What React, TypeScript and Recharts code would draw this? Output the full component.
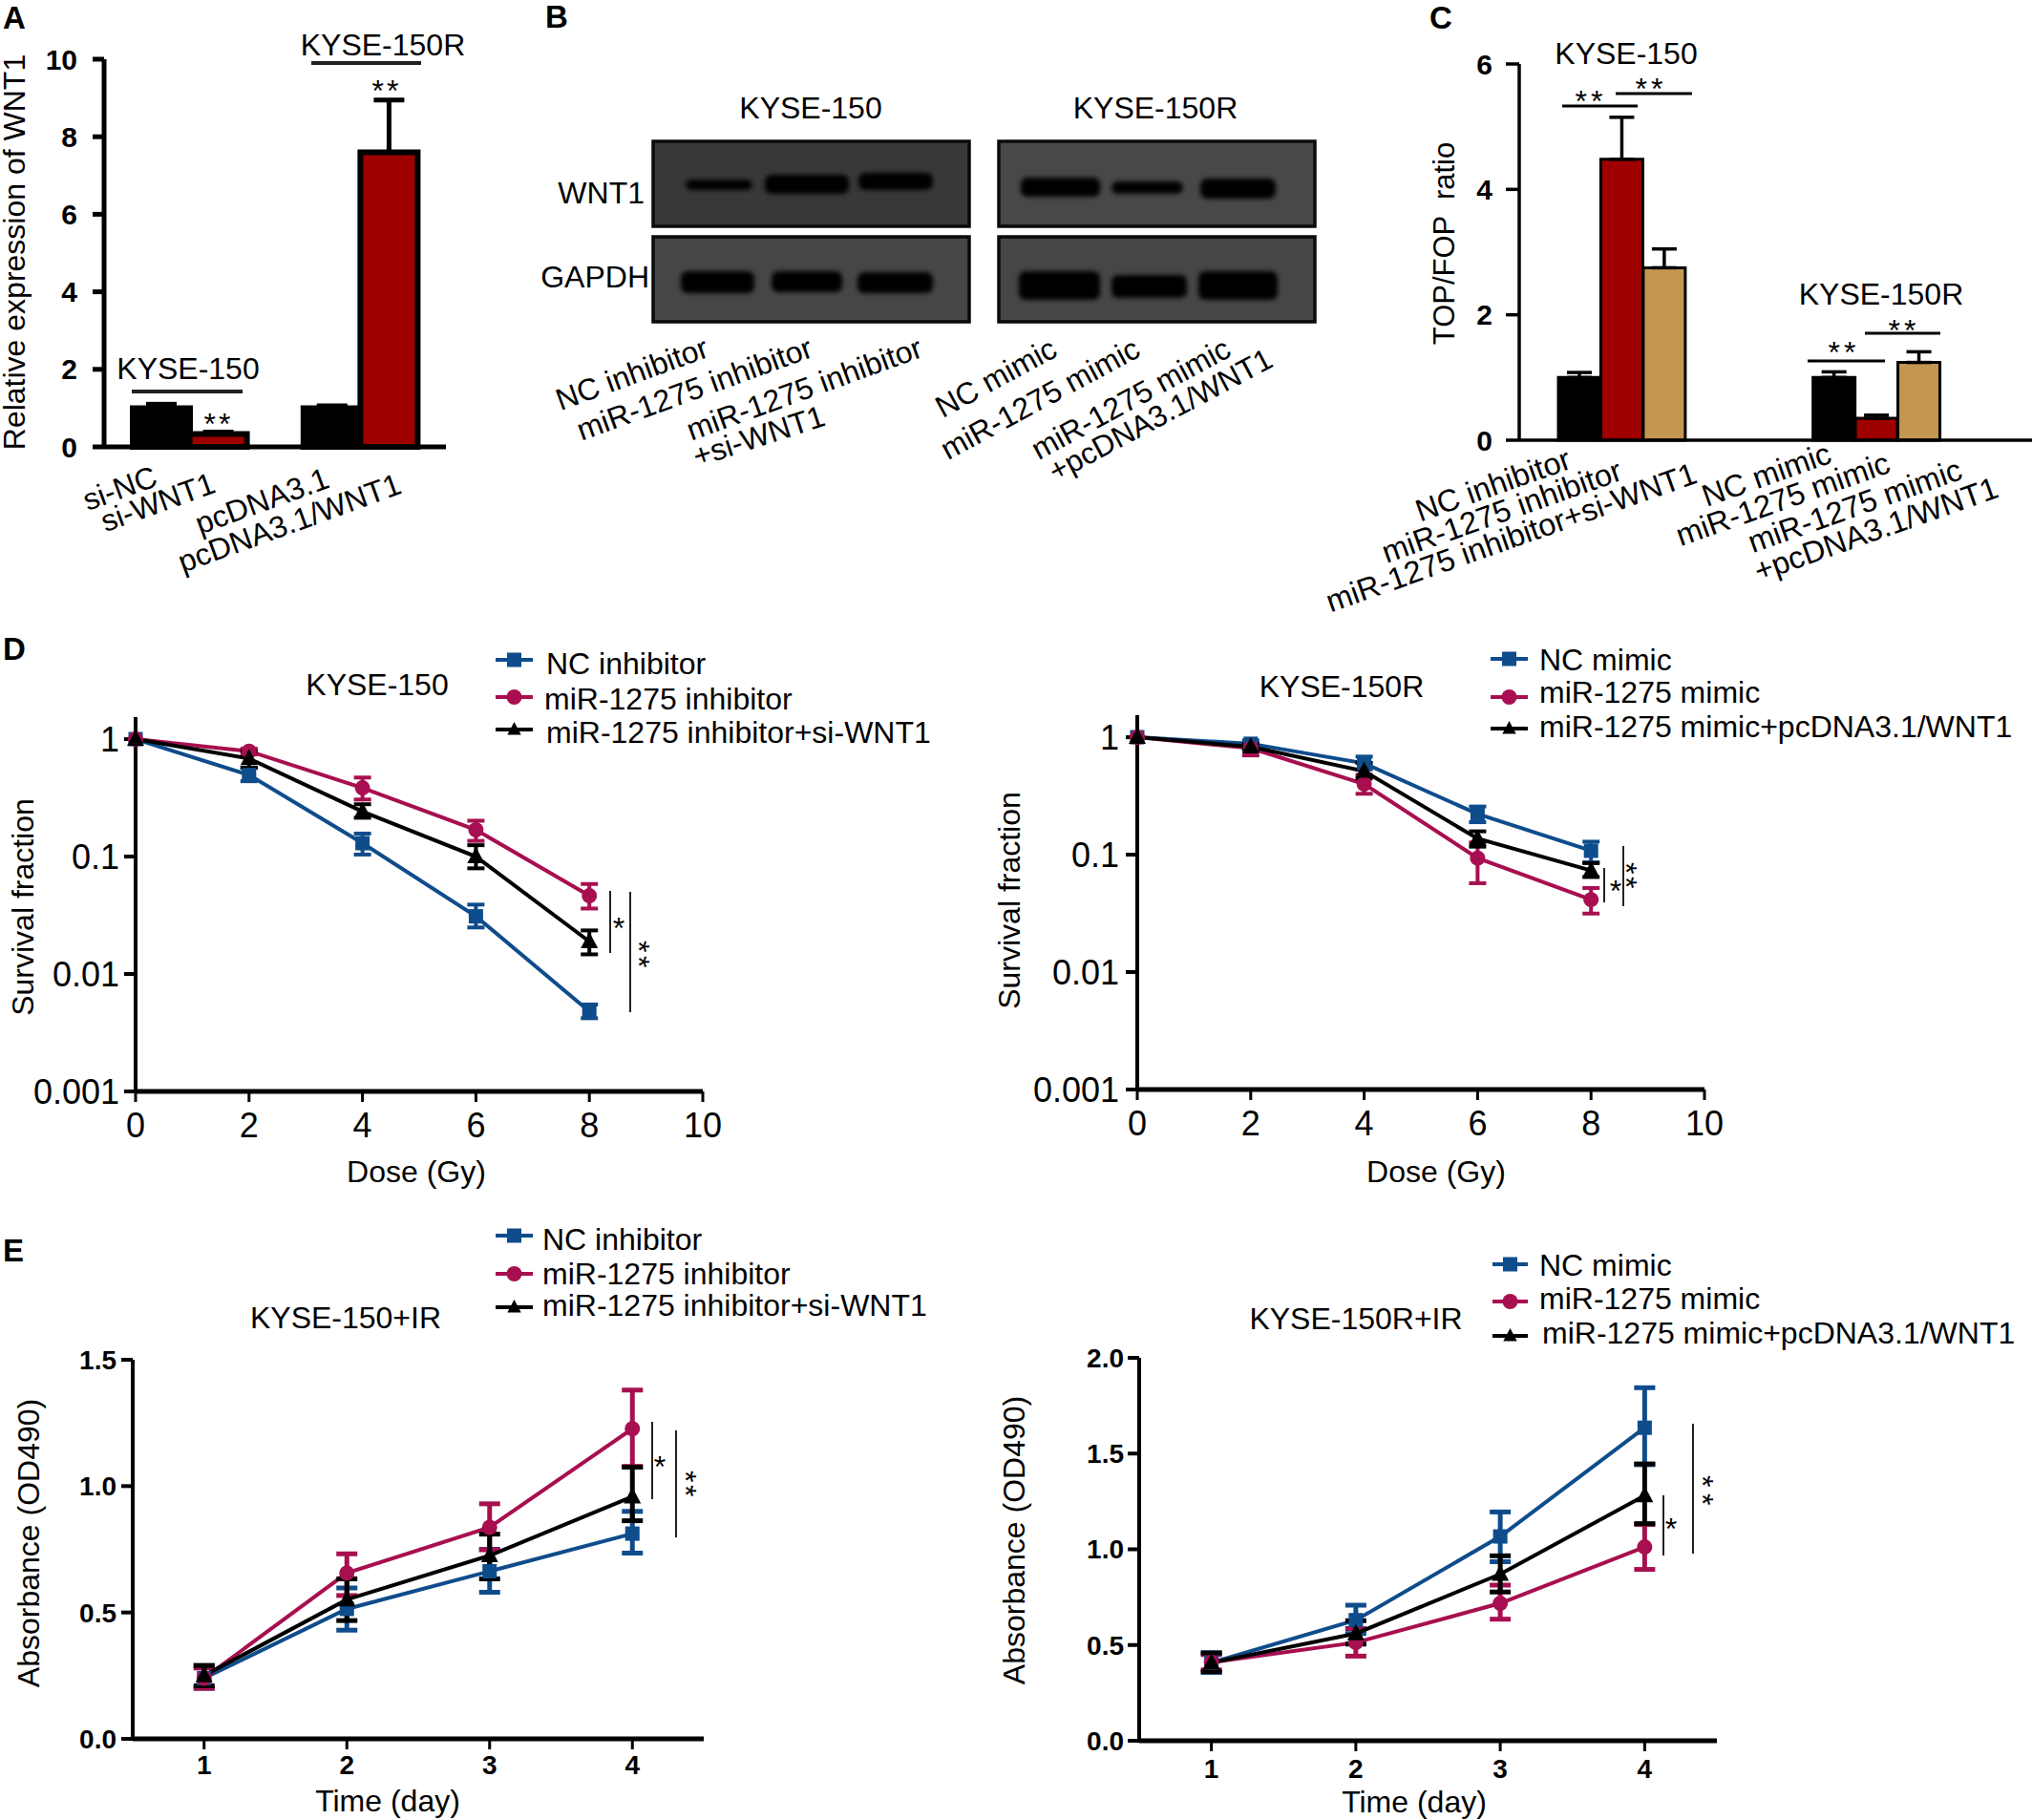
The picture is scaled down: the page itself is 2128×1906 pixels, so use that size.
import React from 'react';
import { BarChart, Bar, Cell, ErrorBar, LineChart, Line, XAxis, YAxis } from 'recharts';

const FONT = '"Liberation Sans", Arial, sans-serif';
const NAVY = '#0F4C8C';
const CRIMSON = '#A80F50';
const INK = '#000000';
const DARKRED = '#9E0000';
const TAN = '#C49650';

// Panel A
const aCategories = ['si-NC', 'si-WNT1', ' ', 'pcDNA3.1', 'pcDNA3.1/WNT1'];
const aValues = [1.0, 0.33, null, 1.0, 7.6];
const aErrors = [0.1, 0.05, null, 0.06, 1.35];
const aFills = [INK, DARKRED, INK, INK, DARKRED];
const aTicks = [0, 2, 4, 6, 8, 10];

// Panel C
const cCategories = ['NC inhibitor', 'miR-1275 inhibitor', 'miR-1275 inhibitor+si-WNT1', ' ', '  ', '   ', 'NC mimic', 'miR-1275 mimic', 'miR-1275 mimic\n+pcDNA3.1/WNT1'];
const cValues = [1.0, 4.48, 2.75, null, null, null, 1.0, 0.35, 1.24];
const cErrors = [0.08, 0.67, 0.3, null, null, null, 0.09, 0.05, 0.17];
const cFills = [INK, DARKRED, TAN, INK, INK, INK, INK, DARKRED, TAN];
const cTicks = [0, 2, 4, 6];

// Panel D
const doses = [0, 2, 4, 6, 8];
const doseTicks = [0, 2, 4, 6, 8, 10];
const survivalTicks = [0.001, 0.01, 0.1, 1];

const d1Nc = [1, 0.495, 0.13, 0.031, 0.0048];
const d1NcLow = [1, 0.438, 0.104, 0.0249, 0.0042];
const d1NcHigh = [1, 0.571, 0.157, 0.039, 0.0055];
const d1Inh = [1, 0.79, 0.385, 0.169, 0.0464];
const d1InhLow = [1, 0.74, 0.306, 0.136, 0.0361];
const d1InhHigh = [1, 0.83, 0.471, 0.202, 0.0584];
const d1Si = [1, 0.684, 0.242, 0.1, 0.0189];
const d1SiLow = [1, 0.57, 0.214, 0.0794, 0.0147];
const d1SiHigh = [1, 0.79, 0.279, 0.125, 0.0235];

const d2Nc = [1, 0.88, 0.6, 0.222, 0.108];
const d2NcLow = [1, 0.81, 0.532, 0.189, 0.086];
const d2NcHigh = [1, 0.94, 0.684, 0.257, 0.129];
const d2Mim = [1, 0.807, 0.4, 0.0935, 0.0414];
const d2MimLow = [1, 0.7, 0.33, 0.0571, 0.0315];
const d2MimHigh = [1, 0.88, 0.479, 0.127, 0.052];
const d2Wnt = [1, 0.83, 0.514, 0.137, 0.0733];
const d2WntLow = [1, 0.78, 0.445, 0.117, 0.0645];
const d2WntHigh = [1, 0.88, 0.605, 0.158, 0.0847];

// Panel E
const days = [1, 2, 3, 4];
const e1Ticks = [0, 0.5, 1, 1.5];
const e2Ticks = [0, 0.5, 1, 1.5, 2];

const e1Nc = [0.24, 0.514, 0.663, 0.812];
const e1NcLow = [0.2, 0.43, 0.58, 0.735];
const e1NcHigh = [0.29, 0.597, 0.75, 0.9];
const e1Inh = [0.24, 0.656, 0.837, 1.227];
const e1InhLow = [0.2, 0.567, 0.748, 1.078];
const e1InhHigh = [0.28, 0.732, 0.93, 1.38];
const e1Si = [0.25, 0.551, 0.725, 0.958];
const e1SiLow = [0.21, 0.468, 0.633, 0.863];
const e1SiHigh = [0.29, 0.633, 0.81, 1.075];

const e2Nc = [0.408, 0.63, 1.067, 1.635];
const e2NcLow = [0.357, 0.56, 0.935, 1.442];
const e2NcHigh = [0.46, 0.708, 1.195, 1.844];
const e2Mim = [0.41, 0.513, 0.718, 1.012];
const e2MimLow = [0.37, 0.442, 0.635, 0.895];
const e2MimHigh = [0.45, 0.586, 0.813, 1.13];
const e2Wnt = [0.408, 0.56, 0.87, 1.28];
const e2WntLow = [0.361, 0.505, 0.777, 1.134];
const e2WntHigh = [0.458, 0.627, 0.966, 1.446];

const inhibitorNames = ['NC inhibitor', 'miR-1275 inhibitor', 'miR-1275 inhibitor+si-WNT1'];
const mimicNames = ['NC mimic', 'miR-1275 mimic', 'miR-1275 mimic+pcDNA3.1/WNT1'];

type Ser = { values: number[]; low: number[]; high: number[] };

const buildRows = (xs: number[], series: Ser[]) =>
  xs.map((x, i) => {
    const row: any = { x };
    series.forEach((s, k) => {
      row[`s${k}`] = s.values[i];
      const down = s.values[i] - s.low[i];
      const up = s.high[i] - s.values[i];
      row[`e${k}`] = down === 0 && up === 0 ? undefined : [down, up];
    });
    return row;
  });

const COLORS = [NAVY, CRIMSON, INK];

const Marker = ({ kind, cx, cy, color, s = 1 }: any) => {
  if (kind === 0) return <rect x={cx - 7.5 * s} y={cy - 7.5 * s} width={15 * s} height={15 * s} fill={color} />;
  if (kind === 1) return <circle cx={cx} cy={cy} r={8 * s} fill={color} />;
  return <polygon points={`${cx},${cy - 10 * s} ${cx + 9 * s},${cy + 7 * s} ${cx - 9 * s},${cy + 7 * s}`} fill={color} />;
};

const LinePanel = ({ plot, rows, xDomain, xTicks, yDomain, yTicks, log, yTick, xTick, ySize, yGap, xGap, capWidth = 9, errW = 4, xWeight }: any) => {
  const [pl, pt, pr, pb] = plot;
  const padL = 130;
  const padT = 20;
  const padR = 20;
  const padB = 70;
  return (
    <div style={{ position: 'absolute', left: pl - padL, top: pt - padT }}>
      <LineChart
        width={pr - pl + padL + padR}
        height={pb - pt + padT + padB}
        data={rows}
        margin={{ top: padT, right: padR, bottom: 0, left: 0 }}
      >
        <XAxis
          dataKey="x"
          type="number"
          domain={xDomain}
          ticks={xTicks}
          interval={0}
          height={padB}
          tickSize={11}
          tickMargin={xGap}
          axisLine={{ stroke: INK, strokeWidth: 5 }}
          tickLine={{ stroke: INK, strokeWidth: 3 }}
          tick={{ fontSize: xTick, fontFamily: FONT, fill: INK, fontWeight: xWeight }}
        />
        <YAxis
          type="number"
          scale={log ? 'log' : 'linear'}
          domain={yDomain}
          ticks={yTicks}
          interval={0}
          width={padL}
          tickSize={ySize}
          tickMargin={yGap}
          tickFormatter={(v: number) => (log ? String(v) : v.toFixed(1))}
          axisLine={{ stroke: INK, strokeWidth: 4 }}
          tickLine={{ stroke: INK, strokeWidth: 4 }}
          tick={{ fontSize: yTick, fontFamily: FONT, fill: INK, fontWeight: xWeight }}
        />
        {[0, 1, 2].map((k) => (
          <Line
            key={k}
            dataKey={`s${k}`}
            type="linear"
            stroke={COLORS[k]}
            strokeWidth={4}
            isAnimationActive={false}
            dot={(p: any) => <Marker key={p.index} kind={k} cx={p.cx} cy={p.cy} color={COLORS[k]} />}
            activeDot={false}
          >
            <ErrorBar dataKey={`e${k}`} direction="y" width={capWidth} strokeWidth={errW} stroke={COLORS[k]} isAnimationActive={false} />
          </Line>
        ))}
      </LineChart>
    </div>
  );
};

const makeBarTick = (offsets: number[][][], size: number, angle: number) => (props: any) => {
  const { x, y, payload, index } = props;
  const lines = String(payload.value).split('\n');
  if (!String(payload.value).trim()) return <g />;
  return (
    <g>
      {lines.map((line, i) => {
        const [dx, dy] = offsets[index][i];
        return (
          <text
            key={i}
            transform={`translate(${x + dx},${y + dy}) rotate(${-angle})`}
            textAnchor="end"
            fontSize={size}
            fontFamily={FONT}
            fill={INK}
          >
            {line}
          </text>
        );
      })}
    </g>
  );
};

const aTickOffsets = [[[-2, 32]], [[-1, 39]], [[0, 0]], [[-1, 34]], [[15, 40]]];
const cTickOffsets = [[[-7, 21]], [[2, 33]], [[36, 36]], [[0, 0]], [[0, 0]], [[0, 0]], [[-1, 15]], [[16, 25]], [[47, 32], [85, 51]]];

const BarPanel = ({ plot, categories, values, errors, fills, ticks, domain, padding, tickFn, stroke, capW, errW, yGap, ySize, fs, axisW, padL = 100 }: any) => {
  const [pl, pt, pr, pb] = plot;
  const padT = 20;
  const padB = 200;
  const rows = categories.map((c: string, i: number) => ({
    name: c,
    value: values[i],
    err: errors[i] == null ? undefined : [0, errors[i]],
  }));
  return (
    <div style={{ position: 'absolute', left: pl - padL, top: pt - padT }}>
      <BarChart
        width={pr - pl + padL}
        height={pb - pt + padT + padB}
        data={rows}
        barCategoryGap={0}
        margin={{ top: padT, right: 0, bottom: 0, left: 0 }}
      >
        <XAxis
          dataKey="name"
          type="category"
          height={padB}
          interval={0}
          padding={padding}
          tickLine={false}
          axisLine={{ stroke: INK, strokeWidth: axisW }}
          tick={tickFn}
        />
        <YAxis
          type="number"
          domain={domain}
          ticks={ticks}
          interval={0}
          width={padL}
          tickSize={ySize}
          tickMargin={yGap}
          axisLine={{ stroke: INK, strokeWidth: axisW }}
          tickLine={{ stroke: INK, strokeWidth: axisW }}
          tick={{ fontSize: fs, fontWeight: 700, fontFamily: FONT, fill: INK }}
        />
        <Bar dataKey="value" stroke={INK} strokeWidth={stroke} isAnimationActive={false}>
          {rows.map((_: any, i: number) => (
            <Cell key={i} fill={fills[i]} />
          ))}
          <ErrorBar dataKey="err" direction="y" width={capW} strokeWidth={errW} stroke={INK} isAnimationActive={false} />
        </Bar>
      </BarChart>
    </div>
  );
};

const T = ({ x, y, children, size = 32, anchor = 'middle', weight }: any) => (
  <text x={x} y={y} fontSize={size} textAnchor={anchor} dominantBaseline="central" fontWeight={weight} fontFamily={FONT} fill={INK}>
    {children}
  </text>
);
const VT = ({ x, y, children, size = 32 }: any) => (
  <text transform={`translate(${x},${y}) rotate(-90)`} fontSize={size} textAnchor="middle" dominantBaseline="central" fontFamily={FONT} fill={INK} style={{ whiteSpace: 'pre' }}>
    {children}
  </text>
);
const RT = ({ x, y, children, size = 32, angle = 20 }: any) => (
  <text transform={`translate(${x},${y}) rotate(${-angle})`} fontSize={size} textAnchor="end" fontFamily={FONT} fill={INK}>
    {children}
  </text>
);
const Stars = ({ x, y, text = '**', spacing = 3, size = 32 }: any) => (
  <text x={x} y={y + size * 0.56} fontSize={size} textAnchor="middle" letterSpacing={spacing} fontFamily={FONT} fill={INK}>
    {text}
  </text>
);
const VStars = ({ x, y, gap = 16, size = 32 }: any) => (
  <text transform={`translate(${x},${y}) rotate(90)`} x={0} y={size * 0.56} fontSize={size} textAnchor="middle" letterSpacing={gap - 12.45} fontFamily={FONT} fill={INK}>
    **
  </text>
);
const Rule = ({ x1, x2, y1, y2, w = 2, c = '#222' }: any) => <line x1={x1} x2={x2} y1={y1} y2={y2} stroke={c} strokeWidth={w} />;

const LegendBlock = ({ names, rows }: any) => (
  <g>
    {rows.map((r: any, k: number) => (
      <g key={k}>
        <line x1={r.lx1} x2={r.lx2} y1={r.ly} y2={r.ly} stroke={COLORS[k]} strokeWidth={4} />
        <Marker kind={k} cx={(r.lx1 + r.lx2) / 2} cy={r.ly} color={COLORS[k]} s={k === 2 ? 0.8 : 1} />
        <T x={r.tx} y={r.ty} anchor="start">{names[k]}</T>
      </g>
    ))}
  </g>
);

const Blot = ({ x, y, w, h, bands, fill }: any) => (
  <g>
    <rect x={x} y={y} width={w} height={h} fill={fill} stroke="#0a0a0a" strokeWidth={3.5} />
    {bands.map((b: number[], i: number) => (
      <rect key={i} x={b[0]} y={b[1]} width={b[2] - b[0]} height={b[3] - b[1]} rx={7} fill="#000" filter="url(#blotBlur)" />
    ))}
  </g>
);

export default function App() {
  const d1Rows = buildRows(doses, [
    { values: d1Nc, low: d1NcLow, high: d1NcHigh },
    { values: d1Inh, low: d1InhLow, high: d1InhHigh },
    { values: d1Si, low: d1SiLow, high: d1SiHigh },
  ]);
  const d2Rows = buildRows(doses, [
    { values: d2Nc, low: d2NcLow, high: d2NcHigh },
    { values: d2Mim, low: d2MimLow, high: d2MimHigh },
    { values: d2Wnt, low: d2WntLow, high: d2WntHigh },
  ]);
  const e1Rows = buildRows(days, [
    { values: e1Nc, low: e1NcLow, high: e1NcHigh },
    { values: e1Inh, low: e1InhLow, high: e1InhHigh },
    { values: e1Si, low: e1SiLow, high: e1SiHigh },
  ]);
  const e2Rows = buildRows(days, [
    { values: e2Nc, low: e2NcLow, high: e2NcHigh },
    { values: e2Mim, low: e2MimLow, high: e2MimHigh },
    { values: e2Wnt, low: e2WntLow, high: e2WntHigh },
  ]);

  return (
    <div style={{ position: 'absolute', left: 0, top: 0, width: 2128, height: 1906, background: '#fff', overflow: 'hidden', fontFamily: FONT }}>
      <BarPanel
        plot={[109, 62, 467, 468]}
        categories={aCategories}
        values={aValues}
        errors={aErrors}
        fills={aFills}
        ticks={aTicks}
        domain={[0, 10]}
        padding={{ left: 30, right: 30 }}
        tickFn={makeBarTick(aTickOffsets, 32, 20)}
        stroke={6}
        capW={16}
        errW={5}
        ySize={12}
        yGap={16}
        fs={30}
        axisW={5}
      />
      <BarPanel
        plot={[1591, 67, 2128, 461]}
        categories={cCategories}
        values={cValues}
        errors={cErrors}
        fills={cFills}
        ticks={cTicks}
        domain={[0, 6]}
        padding={{ left: 41, right: 96 }}
        tickFn={makeBarTick(cTickOffsets, 32.5, 19.5)}
        stroke={3}
        capW={13}
        errW={3.5}
        ySize={14}
        yGap={14}
        fs={30}
        axisW={3.5}
        padL={260}
      />
      <LinePanel plot={[142, 751, 736, 1143]} rows={d1Rows} xDomain={[0, 10]} xTicks={doseTicks} yDomain={[0.001, 1.54]} yTicks={survivalTicks} log yTick={36} xTick={36} ySize={12} yGap={5} xGap={11} />
      <LinePanel plot={[1191, 749, 1785, 1141]} rows={d2Rows} xDomain={[0, 10]} xTicks={doseTicks} yDomain={[0.001, 1.54]} yTicks={survivalTicks} log yTick={36} xTick={36} ySize={12} yGap={7} xGap={11} />
      <LinePanel plot={[139, 1424, 737, 1821]} rows={e1Rows} xDomain={[0.5, 4.5]} xTicks={days} yDomain={[0, 1.5]} yTicks={e1Ticks} yTick={28} xTick={28} ySize={12} yGap={5} xGap={6} capWidth={11} errW={5} xWeight={700} />
      <LinePanel plot={[1193, 1422, 1798, 1823]} rows={e2Rows} xDomain={[0.5, 4.5]} xTicks={days} yDomain={[0, 2]} yTicks={e2Ticks} yTick={28} xTick={28} ySize={12} yGap={4} xGap={8} capWidth={11} errW={5} xWeight={700} />

      <svg width={2128} height={1906} style={{ position: 'absolute', left: 0, top: 0, pointerEvents: 'none' }}>
        <defs>
          <filter id="blotBlur" x="-20%" y="-60%" width="140%" height="220%">
            <feGaussianBlur stdDeviation="2.5" />
          </filter>
        </defs>

        <T x={3} y={18} anchor="start" weight={700} size={33}>A</T>
        <T x={571} y={17} anchor="start" weight={700} size={33}>B</T>
        <T x={1497} y={18} anchor="start" weight={700} size={33}>C</T>
        <T x={3} y={679} anchor="start" weight={700} size={33}>D</T>
        <T x={3} y={1309} anchor="start" weight={700} size={33}>E</T>

        {/* Panel A notes */}
        <VT x={15} y={264}>Relative expression of WNT1</VT>
        <T x={197} y={386}>KYSE-150</T>
        <Rule x1={138} x2={254} y1={410} y2={410} w={4} />
        <Stars x={229} y={437} />
        <T x={401} y={47}>KYSE-150R</T>
        <Rule x1={326} x2={441} y1={66} y2={66} w={4} />
        <Stars x={405} y={88} />

        {/* Panel B */}
        <T x={849} y={113}>KYSE-150</T>
        <T x={1210} y={113}>KYSE-150R</T>
        <T x={675} y={202} anchor="end">WNT1</T>
        <T x={680} y={290} anchor="end">GAPDH</T>
        <Blot x={684} y={148} w={331} h={89} fill="#383838" bands={[[718, 188, 788, 199], [801, 183, 889, 203], [899, 181, 977, 199]]} />
        <Blot x={684} y={248} w={331} h={89} fill="#464646" bands={[[713, 284, 790, 307], [808, 284, 882, 306], [898, 285, 977, 307]]} />
        <Blot x={1046} y={148} w={331} h={89} fill="#484848" bands={[[1069, 186, 1152, 206], [1164, 190, 1239, 203], [1257, 187, 1336, 208]]} />
        <Blot x={1046} y={248} w={331} h={89} fill="#464646" bands={[[1067, 284, 1152, 314], [1164, 288, 1243, 312], [1255, 284, 1338, 314]]} />
        <RT x={744} y={373}>NC inhibitor</RT>
        <RT x={853} y={373}>miR-1275 inhibitor</RT>
        <RT x={968} y={373}>miR-1275 inhibitor</RT>
        <RT x={866} y={445} angle={18}>+si-WNT1</RT>
        <RT x={1109} y={372} angle={28.5}>NC mimic</RT>
        <RT x={1196} y={372} angle={28.5}>miR-1275 mimic</RT>
        <RT x={1291} y={372} angle={28.5}>miR-1275 mimic</RT>
        <RT x={1335} y={383} angle={28} size={31.5}>+pcDNA3.1/WNT1</RT>

        {/* Panel C notes */}
        <VT x={1512} y={255} size={31}>TOP/FOP  ratio</VT>
        <T x={1703} y={56}>KYSE-150</T>
        <Rule x1={1636} x2={1715} y1={111} y2={111} w={3} c="#000" />
        <Rule x1={1692} x2={1772} y1={98} y2={98} w={3} c="#000" />
        <Stars x={1666} y={99} spacing={4} />
        <Stars x={1729} y={86} spacing={4} />
        <T x={1970} y={308}>KYSE-150R</T>
        <Rule x1={1893} x2={1974} y1={378} y2={378} w={3} c="#000" />
        <Rule x1={1953} x2={2032} y1={349} y2={349} w={3} c="#000" />
        <Stars x={1931} y={362} spacing={4} />
        <Stars x={1994} y={339} spacing={4} />

        {/* Panel D notes */}
        <VT x={24} y={950}>Survival fraction</VT>
        <T x={436} y={1227}>Dose (Gy)</T>
        <T x={395} y={717}>KYSE-150</T>
        <LegendBlock
          names={inhibitorNames}
          rows={[
            { lx1: 519, lx2: 558, ly: 691, tx: 572, ty: 695 },
            { lx1: 519, lx2: 558, ly: 730, tx: 570, ty: 732 },
            { lx1: 519, lx2: 558, ly: 764, tx: 572, ty: 767 },
          ]}
        />
        <Rule x1={639} x2={639} y1={933} y2={998} />
        <Stars x={648} y={965} text="*" spacing={0} />
        <Rule x1={660} x2={660} y1={934} y2={1060} />
        <VStars x={676} y={1001} gap={16} />

        <VT x={1057} y={943}>Survival fraction</VT>
        <T x={1504} y={1227}>Dose (Gy)</T>
        <T x={1405} y={719}>KYSE-150R</T>
        <LegendBlock
          names={mimicNames}
          rows={[
            { lx1: 1561, lx2: 1600, ly: 690, tx: 1612, ty: 691 },
            { lx1: 1561, lx2: 1600, ly: 730, tx: 1612, ty: 725 },
            { lx1: 1561, lx2: 1600, ly: 763, tx: 1612, ty: 761 },
          ]}
        />
        <Rule x1={1680} x2={1680} y1={909} y2={945} />
        <Stars x={1692} y={926} text="*" spacing={0} />
        <Rule x1={1700} x2={1700} y1={886} y2={949} />
        <VStars x={1710} y={918} gap={15} />

        {/* Panel E notes */}
        <VT x={30} y={1616}>Absorbance (OD490)</VT>
        <T x={406} y={1886}>Time (day)</T>
        <T x={362} y={1380}>KYSE-150+IR</T>
        <LegendBlock
          names={inhibitorNames}
          rows={[
            { lx1: 519, lx2: 558, ly: 1294, tx: 568, ty: 1298 },
            { lx1: 519, lx2: 558, ly: 1334, tx: 568, ty: 1334 },
            { lx1: 519, lx2: 558, ly: 1369, tx: 568, ty: 1367 },
          ]}
        />
        <Rule x1={683} x2={683} y1={1489} y2={1570} />
        <Stars x={691} y={1529} text="*" spacing={0} />
        <Rule x1={708} x2={708} y1={1498} y2={1610} />
        <VStars x={725} y={1555} gap={15} />

        <VT x={1062} y={1613}>Absorbance (OD490)</VT>
        <T x={1481} y={1887}>Time (day)</T>
        <T x={1420} y={1381}>KYSE-150R+IR</T>
        <LegendBlock
          names={mimicNames}
          rows={[
            { lx1: 1563, lx2: 1600, ly: 1324, tx: 1612, ty: 1325 },
            { lx1: 1563, lx2: 1600, ly: 1363, tx: 1612, ty: 1360 },
            { lx1: 1563, lx2: 1600, ly: 1399, tx: 1615, ty: 1396 },
          ]}
        />
        <Rule x1={1742} x2={1742} y1={1566} y2={1629} />
        <Stars x={1750} y={1594} text="*" spacing={0} />
        <Rule x1={1773} x2={1773} y1={1491} y2={1627} />
        <VStars x={1790} y={1564} gap={19} />
      </svg>
    </div>
  );
}
